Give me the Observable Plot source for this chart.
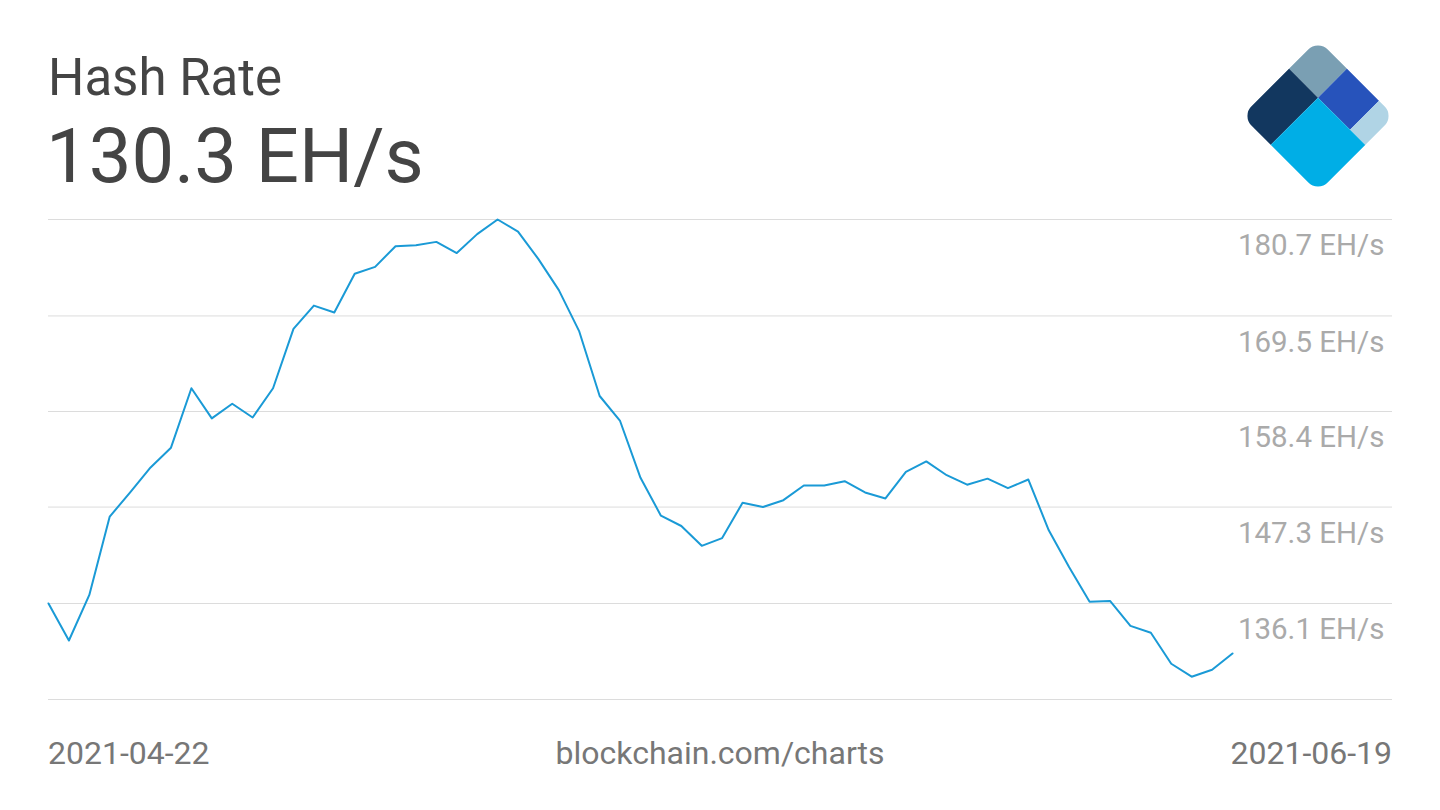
<!DOCTYPE html>
<html>
<head>
<meta charset="utf-8">
<script src="https://cdn.jsdelivr.net/npm/d3@7"></script>
<script src="https://cdn.jsdelivr.net/npm/@observablehq/plot@0.6"></script>
<style>
  body { margin: 0; background: #fff; font-family: Roboto, sans-serif; }
  #page { position: relative; width: 1440px; height: 810px; overflow: hidden; }
  .t { position: absolute; line-height: 1; white-space: nowrap; }
  #title { left: 48px; top: 52px; font-size: 51px; color: #444; }
  #value { left: 46px; top: 118px; font-size: 76px; color: #444; }
  .foot { top: 737px; font-size: 32px; color: #777; }
  #logo { position: absolute; left: 1240px; top: 38px; }
  #chart { position: absolute; left: 0; top: 200px; }
</style>
</head>
<body>
<div id="page">
  <div id="title" class="t">Hash Rate</div>
  <div id="value" class="t">130.3 EH/s</div>
  <svg id="logo" width="160" height="160" viewBox="0 0 160 160">
    <defs>
      <clipPath id="rr"><rect x="0" y="0" width="100" height="100" rx="13"/></clipPath>
    </defs>
    <g transform="translate(78,1.6) rotate(45) scale(1.08)" clip-path="url(#rr)">
      <rect x="0" y="0" width="38" height="38" fill="#7a9fb3"/>
      <rect x="0" y="38" width="38" height="62" fill="#12375f"/>
      <rect x="38" y="0" width="42" height="38" fill="#2753bb"/>
      <rect x="80" y="0" width="20" height="38" fill="#b0d4e5"/>
      <rect x="38" y="38" width="62" height="62" fill="#00aee6"/>
    </g>
  </svg>
  <div id="chart"></div>
  <div class="t foot" style="left:48px">2021-04-22</div>
  <div class="t foot" style="left:720px;transform:translateX(-50%)">blockchain.com/charts</div>
  <div class="t foot" style="right:48px">2021-06-19</div>
</div>
<script>
// daily hash rate, EH/s, 2021-04-22 .. 2021-06-19
const startDate = "2021-04-22";
const endDate = "2021-06-19";
const hashRate = [
  136.1, 131.8, 137.1, 146.2, 149.0, 151.9, 154.2, 161.1, 157.6, 159.3,
  157.7, 161.1, 168.0, 170.7, 169.9, 174.4, 175.2, 177.6, 177.7, 178.1,
  176.8, 179.0, 180.7, 179.3, 176.1, 172.5, 167.7, 160.2, 157.3, 150.7,
  146.3, 145.1, 142.8, 143.7, 147.8, 147.3, 148.1, 149.8, 149.8, 150.3,
  149.0, 148.3, 151.4, 152.6, 151.0, 149.9, 150.6, 149.5, 150.5, 144.6,
  140.3, 136.3, 136.4, 133.5, 132.7, 129.1, 127.6, 128.4, 130.3
];
const gridValues = [124.95, 136.1, 147.3, 158.4, 169.5, 180.7];
const tickLabels = ["", "136.1 EH/s", "147.3 EH/s", "158.4 EH/s", "169.5 EH/s", "180.7 EH/s"];

const t0 = new Date(startDate), t1 = new Date(endDate);
const days = d3.utcDay.range(t0, d3.utcDay.offset(t1, 1));
const data = days.map((d, i) => ({date: d, value: hashRate[i]}));
const ticks = gridValues.map((v, i) => ({v, label: tickLabels[i]}));

const chart = Plot.plot({
  width: 1440,
  height: 530,
  marginLeft: 48,
  marginRight: 48,
  marginTop: 19,
  marginBottom: 31,
  x: {type: "utc", domain: [t0, t1], range: [48, 1232], axis: null},
  y: {domain: [gridValues[0], gridValues[gridValues.length - 1]], axis: null},
  style: {fontFamily: "Roboto, sans-serif", background: "white"},
  marks: [
    Plot.ruleY(ticks, {y: "v", stroke: "#dcdcdc", strokeWidth: 1}),
    Plot.text(ticks, {
      y: "v", text: "label", frameAnchor: "right", textAnchor: "end",
      lineAnchor: "top", dx: -8, dy: 15, fontSize: 29.5, fill: "#aaaaaa"
    }),
    Plot.line(data, {x: "date", y: "value", stroke: "#1a9ad6", strokeWidth: 2})
  ]
});
d3.select("#chart").append(() => chart);
</script>
</body>
</html>
